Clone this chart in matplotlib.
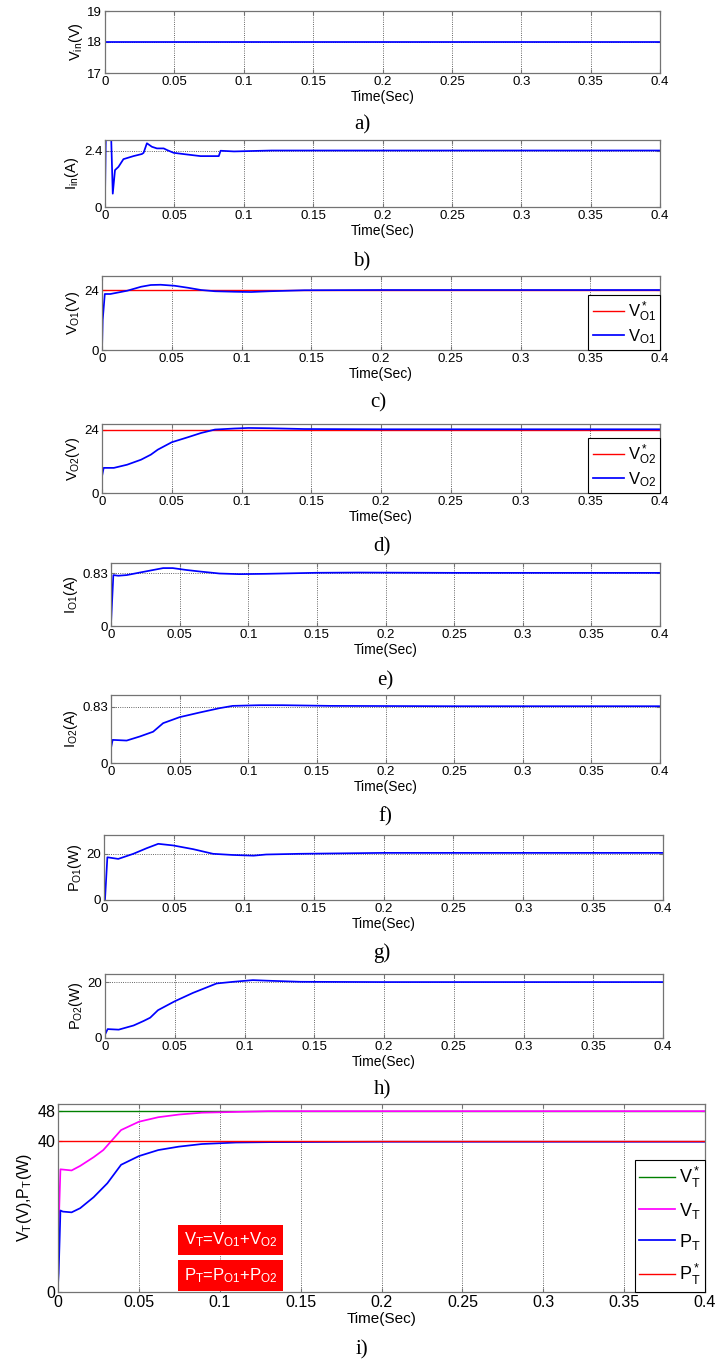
import numpy as np
import matplotlib.pyplot as plt

plt.rcParams['font.family'] = ['Liberation Sans', 'DejaVu Sans']
plt.rcParams['mathtext.fontset'] = 'custom'
plt.rcParams['mathtext.rm'] = 'Liberation Sans'
plt.rcParams['mathtext.it'] = 'Liberation Sans'
plt.rcParams['mathtext.default'] = 'regular'

# ---- data ----
x_ticks = [0, 0.05, 0.1, 0.15, 0.2, 0.25, 0.3, 0.35, 0.4]
x_tick_labels = ['0', '0.05', '0.1', '0.15', '0.2', '0.25', '0.3', '0.35', '0.4']

t_vin = [0, 0.4]
vin = [18, 18]

t_iin = [0, 0.0007, 0.0042, 0.0056, 0.0072, 0.0097, 0.0133, 0.0205, 0.0266, 0.0278,
         0.0302, 0.0338, 0.0374, 0.0423, 0.0447, 0.0495, 0.059, 0.0688, 0.082, 0.0833,
         0.093, 0.12, 0.2, 0.3, 0.4]
iin = [0.4, 3.5, 3.5, 0.57, 1.58, 1.72, 2.05, 2.18, 2.27, 2.32,
       2.73, 2.58, 2.51, 2.51, 2.44, 2.32, 2.25, 2.18, 2.18, 2.41,
       2.38, 2.42, 2.42, 2.42, 2.42]

t_vo1 = [0, 0.0005, 0.002, 0.006, 0.018, 0.028, 0.035, 0.042, 0.052, 0.0616,
         0.071, 0.081, 0.095, 0.107, 0.12, 0.145, 0.2, 0.3, 0.4]
vo1 = [0, 12, 22.4, 22.4, 23.7, 25.3, 26.0, 26.1, 25.7, 24.9,
       24.0, 23.5, 23.3, 23.2, 23.5, 23.9, 24.0, 24.0, 24.0]
vo1_ref = 24

t_vo2 = [0, 0.0012, 0.0085, 0.018, 0.028, 0.035, 0.040, 0.05, 0.0616, 0.071,
         0.081, 0.095, 0.105, 0.12, 0.145, 0.2, 0.3, 0.4]
vo2 = [6.3, 9.5, 9.5, 10.7, 12.6, 14.5, 16.4, 19.2, 21.1, 22.7,
       24.0, 24.4, 24.6, 24.5, 24.2, 24.1, 24.1, 24.1]
vo2_ref = 24

t_io1 = [0, 0.0017, 0.0053, 0.0114, 0.021, 0.0307, 0.038, 0.045, 0.055, 0.0645,
         0.079, 0.0935, 0.113, 0.149, 0.18, 0.25, 0.4]
io1 = [0.03, 0.80, 0.79, 0.80, 0.84, 0.88, 0.91, 0.91, 0.88, 0.857,
       0.825, 0.815, 0.82, 0.836, 0.84, 0.835, 0.835]

t_io2 = [0, 0.0012, 0.0114, 0.021, 0.0307, 0.038, 0.05, 0.0645, 0.079, 0.0887,
         0.108, 0.125, 0.16, 0.25, 0.4]
io2 = [0.22, 0.34, 0.33, 0.39, 0.46, 0.586, 0.674, 0.742, 0.806, 0.84,
       0.85, 0.85, 0.84, 0.835, 0.835]

t_po1 = [0, 0.0007, 0.0024, 0.0102, 0.021, 0.0305, 0.0388, 0.0495, 0.0638, 0.078,
         0.092, 0.107, 0.116, 0.14, 0.2, 0.4]
po1 = [0, 0, 18.4, 17.7, 19.9, 22.3, 24.2, 23.5, 21.9, 19.9,
       19.4, 19.1, 19.6, 19.9, 20.3, 20.3]

t_po2 = [0, 0.0019, 0.0098, 0.0205, 0.0276, 0.0324, 0.038, 0.05, 0.063, 0.08,
         0.092, 0.106, 0.116, 0.14, 0.2, 0.4]
po2 = [1.2, 3.2, 3.0, 4.5, 6.1, 7.3, 10.0, 13.2, 16.2, 19.6,
       20.2, 20.8, 20.6, 20.2, 20.1, 20.1]

t_vt = [0, 0.0006, 0.0015, 0.0084, 0.0137, 0.022, 0.028, 0.0336, 0.039, 0.05,
        0.062, 0.0746, 0.089, 0.11, 0.13, 0.2, 0.4]
vt = [2, 20, 32.5, 32.2, 33.4, 35.7, 37.6, 40.3, 42.9, 45.1,
      46.3, 47.0, 47.5, 47.7, 47.9, 47.9, 47.9]
vt_ref = 48

t_pt = [0, 0.0004, 0.001, 0.0015, 0.003, 0.0084, 0.0137, 0.022, 0.0305, 0.039,
        0.05, 0.062, 0.0746, 0.089, 0.11, 0.131, 0.2, 0.4]
pt = [1.9, 5, 13.8, 21.6, 21.3, 21.1, 22.2, 25.1, 28.8, 33.7,
      36.0, 37.6, 38.5, 39.2, 39.6, 39.7, 39.8, 39.8]
pt_ref = 40

W, H = 716, 1363
fig = plt.figure(figsize=(W / 100, H / 100), dpi=100)


def add_ax(left, top, right, bottom):
    return fig.add_axes([left / W, 1 - bottom / H, (right - left) / W, (bottom - top) / H])


def style(ax, ylim, yticks, ylabel, fs=9.5, lfs=10, yfs=10.5):
    ax.set_xlim(0, 0.4)
    ax.set_xticks(x_ticks)
    ax.set_xticklabels(x_tick_labels)
    ax.set_ylim(*ylim)
    ax.set_yticks(yticks)
    ax.set_yticklabels([f'{v:g}' for v in yticks])
    ax.grid(True, linestyle=':', color='0.2', linewidth=0.6)
    for s in ax.spines.values():
        s.set_color('0.45')
        s.set_linewidth(0.9)
    ax.tick_params(direction='in', length=3, top=True, right=True, color='0.45',
                   labelsize=fs, pad=2)
    ax.set_xlabel('Time(Sec)', fontsize=lfs, labelpad=1.5)
    ax.set_ylabel(ylabel, fontsize=yfs, labelpad=2)


def legend(ax, fs=12, spacing=0.2, hl=1.9):
    lg = ax.legend(loc='lower right', borderaxespad=0, fontsize=fs, fancybox=False,
                   edgecolor='black', framealpha=1, handlelength=hl, handletextpad=0.2,
                   borderpad=0.25, labelspacing=spacing)
    lg.get_frame().set_linewidth(0.8)


def letter(x, y, s):
    fig.text(x / W, 1 - y / H, s, family='Liberation Serif', fontsize=15,
             ha='center', va='center')


blue = '#0000ff'
red = '#ff0000'
lw = 1.25

# a)
ax = add_ax(105, 11, 660, 73)
ax.plot(t_vin, vin, color=blue, lw=lw)
style(ax, (17, 19), [17, 18, 19], '$V_{in}$(V)')
letter(362, 125, 'a)')

# b)
ax = add_ax(105, 140, 660, 207)
ax.plot(t_iin, iin, color=blue, lw=lw)
style(ax, (0, 2.87), [0, 2.4], '$I_{in}$(A)')
letter(362, 262, 'b)')

# c)
ax = add_ax(102, 276, 660, 350)
ax.plot([0, 0.4], [vo1_ref, vo1_ref], color=red, lw=1.0, label='$V^*_{O1}$')
ax.plot(t_vo1, vo1, color=blue, lw=lw, label='$V_{O1}$')
style(ax, (0, 29.6), [0, 24], '$V_{O1}$(V)')
legend(ax)
letter(378, 403, 'c)')

# d)
ax = add_ax(102, 424, 660, 493)
ax.plot([0, 0.4], [vo2_ref, vo2_ref], color=red, lw=1.0, label='$V^*_{O2}$')
ax.plot(t_vo2, vo2, color=blue, lw=lw, label='$V_{O2}$')
style(ax, (0, 26.1), [0, 24], '$V_{O2}$(V)')
legend(ax)
letter(382, 547, 'd)')

# e)
ax = add_ax(111, 563, 660, 626)
ax.plot(t_io1, io1, color=blue, lw=lw)
style(ax, (0, 0.99), [0, 0.83], '$I_{O1}$(A)')
letter(385, 681, 'e)')

# f)
ax = add_ax(111, 695, 660, 763)
ax.plot(t_io2, io2, color=blue, lw=lw)
style(ax, (0, 1.0), [0, 0.83], '$I_{O2}$(A)')
letter(385, 817, 'f)')

# g)
ax = add_ax(104, 835, 663, 900)
ax.plot(t_po1, po1, color=blue, lw=lw)
style(ax, (0, 28), [0, 20], '$P_{O1}$(W)')
letter(382, 953, 'g)')

# h)
ax = add_ax(105, 974, 663, 1038)
ax.plot(t_po2, po2, color=blue, lw=lw)
style(ax, (0, 23), [0, 20], '$P_{O2}$(W)')
letter(382, 1090, 'h)')

# i)
ax = add_ax(58, 1104, 705, 1292)
ax.plot([0, 0.4], [vt_ref, vt_ref], color='#008000', lw=1.0, label='$V^*_T$')
ax.plot(t_vt, vt, color='#ff00ff', lw=lw, label='$V_T$')
ax.plot(t_pt, pt, color=blue, lw=lw, label='$P_T$')
ax.plot([0, 0.4], [pt_ref, pt_ref], color=red, lw=1.0, label='$P^*_T$')
style(ax, (0, 49.8), [0, 40, 48], '$V_T$(V),$P_T$(W)', fs=11.5, lfs=11, yfs=11.5)
legend(ax, fs=13, spacing=0.6, hl=2.0)
box = dict(boxstyle='square,pad=0.35', facecolor=red, edgecolor='none')
ax.text(0.267, 0.277, 'V$_T$=V$_{O1}$+V$_{O2}$', transform=ax.transAxes, color='white',
        fontsize=12, ha='center', va='center', bbox=box)
ax.text(0.267, 0.088, 'P$_T$=P$_{O1}$+P$_{O2}$', transform=ax.transAxes, color='white',
        fontsize=12, ha='center', va='center', bbox=box)
letter(362, 1350, 'i)')

fig.savefig('out.png', dpi=100)
